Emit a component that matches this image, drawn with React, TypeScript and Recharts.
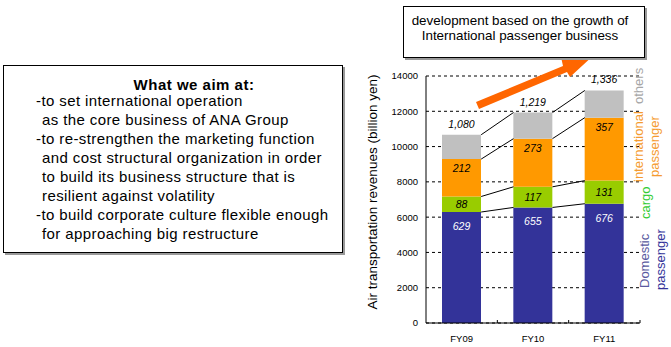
import React from "react";
import { BarChart, Bar, XAxis, YAxis, CartesianGrid, ReferenceLine, LabelList } from "recharts";

const categories = ["FY09", "FY10", "FY11"];
const domestic = [6290, 6550, 6760];
const cargo = [880, 1170, 1310];
const international = [2120, 2730, 3570];
const others = [1380, 1480, 1540];
const totalLabels = ["1,080", "1,219", "1,336"];
const yTicks = [0, 2000, 4000, 6000, 8000, 10000, 12000, 14000];

const yAxisTitle = "Air transportation revenues  (billion yen)";
const headline = ["development based on the growth of", "International passenger business"];
const aimTitle = "What we aim at:";
const aimLines = [
  { text: "-to set international operation", indent: false },
  { text: "as the core business of ANA Group", indent: true },
  { text: "-to re-strengthen the marketing function", indent: false },
  { text: "and cost structural organization in order", indent: true },
  { text: "to build its business structure that is", indent: true },
  { text: "resilient against volatility", indent: true },
  { text: "-to build corporate culture flexible enough", indent: false },
  { text: "for approaching big restructure", indent: true },
];

const FONT = "'Liberation Sans', Arial, Helvetica, sans-serif";

// category slots on a numeric axis: slot i spans [i, i+1], bar centered at i + 0.5
const data = categories.map((c, i) => ({
  pos: i + 0.5,
  name: c,
  domestic: domestic[i],
  cargo: cargo[i],
  international: international[i],
  others: others[i],
  total: totalLabels[i],
}));
const xTicks = data.map((d) => d.pos);
const boundaries = categories.map((_, i) => i + 1);

const stackTops = categories.map((_, i) => {
  const a = domestic[i];
  const b = a + cargo[i];
  const c = b + international[i];
  const d = c + others[i];
  return [a, b, c, d];
});

const BAR_SIZE = 39;
const PLOT_W = 214;
const HALF = BAR_SIZE / 2 / (PLOT_W / categories.length);

const connectors: { x1: number; y1: number; x2: number; y2: number }[] = [];
for (let i = 0; i < categories.length - 1; i++) {
  for (let k = 0; k < 4; k++) {
    connectors.push({
      x1: data[i].pos + HALF,
      y1: stackTops[i][k],
      x2: data[i + 1].pos - HALF,
      y2: stackTops[i + 1][k],
    });
  }
}

const valueLabel = (dy: number | "mid" | "above", color: string, raw = false) => (props: any) => {
  const vb = props.viewBox || props;
  const x = vb.x ?? props.x;
  const y = vb.y ?? props.y;
  const w = vb.width ?? props.width;
  const h = vb.height ?? props.height;
  let cy = 0;
  if (dy === "mid") cy = y + h / 2;
  else if (dy === "above") cy = y - 11;
  else cy = y + dy;
  const v = props.value;
  const txt = raw ? v : String(Math.round(Number(v) / 10));
  return (
    <text
      x={x + w / 2}
      y={cy}
      textAnchor="middle"
      dominantBaseline="central"
      fill={color}
      fontSize={10.5}
      fontStyle="italic"
      fontFamily={FONT}
    >
      {txt}
    </text>
  );
};

const seriesNames = [
  { text: "others", x: 638, y: 104, color: "#a6a6a6" },
  { text: "international", x: 638, y: 182, color: "#f59b2f" },
  { text: "passenger", x: 654, y: 177, color: "#f59b2f" },
  { text: "cargo", x: 645, y: 219, color: "#33cc33" },
  { text: "Domestic", x: 644, y: 288, color: "#5a5aa0" },
  { text: "passenger", x: 660, y: 290, color: "#333399" },
];

export default function App() {
  return (
    <div
      style={{
        position: "absolute",
        left: 0,
        top: 0,
        width: 671,
        height: 347,
        background: "#fff",
        fontFamily: FONT,
        overflow: "hidden",
      }}
    >
      <BarChart
        width={671}
        height={347}
        data={data}
        margin={{ top: 76, right: 31, bottom: 0, left: 366 }}
        barSize={BAR_SIZE}
      >
        <CartesianGrid vertical={false} stroke="#000" strokeDasharray="3 3" />
        <XAxis
          dataKey="pos"
          type="number"
          domain={[0, categories.length]}
          allowDataOverflow
          ticks={xTicks}
          interval={0}
          tickFormatter={(v: number) => categories[Math.floor(v)] ?? ""}
          height={24}
          axisLine={{ stroke: "#000" }}
          tickLine={false}
          tickMargin={6}
          tick={{ fontSize: 9.5, fill: "#000", fontFamily: FONT }}
        />
        <YAxis
          width={60}
          domain={[0, 14000]}
          ticks={yTicks}
          interval={0}
          axisLine={{ stroke: "#000" }}
          tickLine={false}
          tick={{ fontSize: 9.5, fill: "#000", fontFamily: FONT }}
        />
        <Bar dataKey="domestic" stackId="a" fill="#333399" isAnimationActive={false}>
          <LabelList dataKey="domestic" content={valueLabel(14, "#fff")} />
        </Bar>
        <Bar dataKey="cargo" stackId="a" fill="#99cc00" isAnimationActive={false}>
          <LabelList dataKey="cargo" content={valueLabel("mid", "#000")} />
        </Bar>
        <Bar dataKey="international" stackId="a" fill="#ff9900" isAnimationActive={false}>
          <LabelList dataKey="international" content={valueLabel(9, "#000")} />
        </Bar>
        <Bar dataKey="others" stackId="a" fill="#c0c0c0" isAnimationActive={false}>
          <LabelList dataKey="total" content={valueLabel("above", "#000", true)} />
        </Bar>
        {connectors.map((c, i) => (
          <ReferenceLine
            key={"c" + i}
            ifOverflow="visible"
            stroke="#000"
            strokeWidth={1}
            segment={[
              { x: c.x1, y: c.y1 },
              { x: c.x2, y: c.y2 },
            ]}
          />
        ))}
        {boundaries.map((b) => (
          <ReferenceLine
            key={"t" + b}
            ifOverflow="visible"
            stroke="#000"
            strokeWidth={1}
            segment={[
              { x: b, y: 0 },
              { x: b, y: 170 },
            ]}
          />
        ))}
      </BarChart>

      <svg
        width={671}
        height={347}
        style={{ position: "absolute", left: 0, top: 0, pointerEvents: "none" }}
      >
        <text
          transform="translate(372,192) rotate(-90)"
          textAnchor="middle"
          dominantBaseline="central"
          fontSize={13.5}
          fill="#000"
          fontFamily={FONT}
        >
          {yAxisTitle}
        </text>
        {seriesNames.map((s, i) => (
          <text
            key={i}
            transform={`translate(${s.x},${s.y}) rotate(-90)`}
            textAnchor="start"
            dominantBaseline="central"
            fontSize={13}
            fill={s.color}
            fontFamily={FONT}
          >
            {s.text}
          </text>
        ))}
        <polygon
          points="476,102 563,66 561,57 595,54 570,77 567,72 479,109"
          fill="#ff6600"
        />
      </svg>

      <div
        style={{
          position: "absolute",
          left: 403,
          top: 6,
          width: 240,
          height: 44,
          border: "1px solid #000",
          boxShadow: "2px 2px 0 #999",
          background: "#fff",
          textAlign: "center",
          fontSize: 13.4,
          lineHeight: "15px",
          paddingTop: 6,
          boxSizing: "content-box",
          color: "#000",
        }}
      >
        <div style={{ marginLeft: -8 }}>{headline[0]}</div>
        <div style={{ marginLeft: -8 }}>{headline[1]}</div>
      </div>

      <div
        style={{
          position: "absolute",
          left: 3,
          top: 65,
          width: 338,
          height: 186,
          border: "1px solid #000",
          boxShadow: "2px 2px 0 #999",
          background: "#fff",
          color: "#000",
        }}
      >
        <div
          style={{
            position: "absolute",
            left: 0,
            top: 11,
            width: 380,
            textAlign: "center",
            fontWeight: "bold",
            fontSize: 15,
            letterSpacing: 0.5,
            lineHeight: "16px",
          }}
        >
          {aimTitle}
        </div>
        {aimLines.map((l, i) => (
          <div
            key={i}
            style={{
              position: "absolute",
              left: l.indent ? 38 : 32,
              top: 27 + i * 19,
              fontSize: 15,
              letterSpacing: 0.4,
              lineHeight: "16px",
              whiteSpace: "nowrap",
            }}
          >
            {l.text}
          </div>
        ))}
      </div>
    </div>
  );
}
